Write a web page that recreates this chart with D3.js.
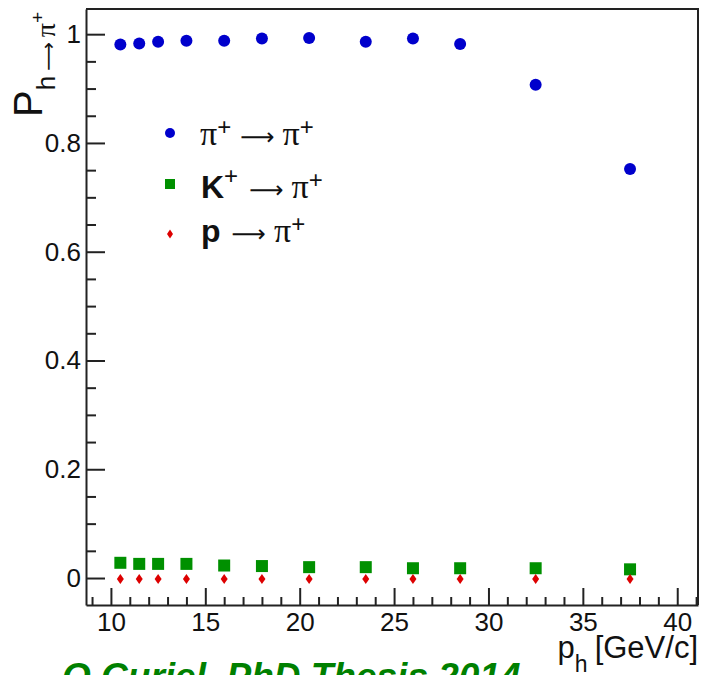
<!DOCTYPE html>
<html>
<head>
<meta charset="utf-8">
<script src="https://cdn.jsdelivr.net/npm/d3@7"></script>
<style>
  body { margin: 0; background: #fff; }
  svg { display: block; }
  text { font-family: "Liberation Sans", Arial, Helvetica, sans-serif; fill: #111; }
</style>
</head>
<body>
<div class="chart"></div>
<script>
// ======================================
// data
// ======================================
var momentum = [10.5, 11.5, 12.5, 14, 16, 18, 20.5, 23.5, 26, 28.5, 32.5, 37.5];
var piToPi = [0.981, 0.983, 0.986, 0.988, 0.988, 0.992, 0.993, 0.986, 0.992, 0.982, 0.907, 0.752];
var kToPi = [0.028, 0.026, 0.026, 0.026, 0.023, 0.022, 0.020, 0.020, 0.018, 0.018, 0.018, 0.016];
var pToPi = [0.0, 0.0, 0.0, 0.0, 0.0, 0.0, 0.0, 0.0, 0.0, 0.0, 0.0, 0.0];

var xTicks = [10, 15, 20, 25, 30, 35, 40];
var yTicks = [0, 0.2, 0.4, 0.6, 0.8, 1];
var yTickLabels = ['0', '0.2', '0.4', '0.6', '0.8', '1'];

// ======================================
// svg set up
// ======================================
var W = 702, H = 675;
var frame = { left: 86, right: 698, top: 9, bottom: 605 };
var serif = '"Liberation Serif", "DejaVu Serif", serif';
var arrowFont = '"DejaVu Sans", sans-serif';

var svg = d3.select('.chart')
   .append('svg')
   .attr('width', W)
   .attr('height', H);

var x = d3.scaleLinear().domain([8.68, 41.1]).range([frame.left, frame.right]);
var y = d3.scaleLinear().domain([-0.0496, 1.0463]).range([frame.bottom, frame.top]);

// frame (top and right sides)
svg.append('path')
   .attr('d', 'M' + frame.left + ',' + frame.top + 'H' + frame.right + 'V' + frame.bottom)
   .attr('fill', 'none')
   .attr('stroke', '#222')
   .attr('stroke-width', 2);

// ======================================
// axes: majors with labels, minors without
// ======================================
var xMinor = d3.range(9, 42, 1).filter(function(v){ return xTicks.indexOf(v) < 0; });
var yMinor = d3.range(-0.05, 1.06, 0.05).map(function(v){ return Math.round(v * 100) / 100; })
   .filter(function(v){ return v > -0.04 && v < 1.04 && yTicks.indexOf(v) < 0; });

svg.append('g')
   .attr('transform', 'translate(0,' + frame.bottom + ')')
   .call(d3.axisBottom(x).tickValues(xTicks).tickSizeInner(-17).tickSizeOuter(0).tickPadding(7.5));
svg.append('g')
   .attr('transform', 'translate(0,' + frame.bottom + ')')
   .call(d3.axisBottom(x).tickValues(xMinor).tickSizeInner(-8).tickSizeOuter(0).tickFormat(''))
   .select('.domain').remove();

svg.append('g')
   .attr('transform', 'translate(' + frame.left + ',0)')
   .call(d3.axisLeft(y).tickValues(yTicks).tickSizeInner(-19).tickSizeOuter(0).tickPadding(5)
      .tickFormat(function(d, i){ return yTickLabels[i]; }));
svg.append('g')
   .attr('transform', 'translate(' + frame.left + ',0)')
   .call(d3.axisLeft(y).tickValues(yMinor).tickSizeInner(-10).tickSizeOuter(0).tickFormat(''))
   .select('.domain').remove();

svg.selectAll('.domain').attr('stroke', '#222').attr('stroke-width', 2);
svg.selectAll('.tick line').attr('stroke', '#222').attr('stroke-width', 2);
svg.selectAll('.tick text')
   .attr('font-family', '"Liberation Sans", Arial, sans-serif')
   .attr('font-size', '26px')
   .attr('fill', '#1a1a2a');

// ======================================
// axis titles
// ======================================
var yTitle = svg.append('text')
   .attr('transform', 'translate(42,117) rotate(-90)')
   .attr('font-size', '40px');
yTitle.append('tspan').text('P');
yTitle.append('tspan').attr('dy', 13).attr('font-size', '26px').text('h');
yTitle.append('tspan').attr('font-size', '20px').attr('dx', 5).attr('font-family', arrowFont).text('\u27f6');
yTitle.append('tspan').attr('font-size', '28px').attr('dx', 5).attr('font-family', serif).text('\u03c0');
yTitle.append('tspan').attr('dy', -11).attr('font-size', '19px').text('+');

var xTitle = svg.append('text')
   .attr('x', frame.right)
   .attr('y', 658)
   .attr('text-anchor', 'end')
   .attr('font-size', '31px');
xTitle.append('tspan').text('p');
xTitle.append('tspan').attr('dy', 14).attr('font-size', '23px').text('h');
xTitle.append('tspan').attr('dy', -14).attr('dx', 7).text('[GeV/c]');

// ======================================
// markers
// ======================================
var diamond = function(cx, cy, w, h){
   return 'M' + cx + ',' + (cy - h) + 'L' + (cx + w) + ',' + cy + 'L' + cx + ',' + (cy + h) + 'L' + (cx - w) + ',' + cy + 'Z';
};

svg.selectAll('circle.pi')
   .data(momentum)
   .enter()
   .append('circle')
   .attr('class', 'pi')
   .attr('cx', function(d){ return x(d); })
   .attr('cy', function(d, i){ return y(piToPi[i]); })
   .attr('r', 6)
   .attr('fill', '#0000cc');

svg.selectAll('rect.k')
   .data(momentum)
   .enter()
   .append('rect')
   .attr('class', 'k')
   .attr('x', function(d){ return x(d) - 6; })
   .attr('y', function(d, i){ return y(kToPi[i]) - 6; })
   .attr('width', 12)
   .attr('height', 12)
   .attr('fill', '#009000');

svg.selectAll('path.p')
   .data(momentum)
   .enter()
   .append('path')
   .attr('class', 'p')
   .attr('d', function(d, i){ return diamond(x(d), y(pToPi[i]) + 1, 3.5, 5); })
   .attr('fill', '#dd0000');

// ======================================
// legend
// ======================================
svg.append('circle').attr('cx', 170).attr('cy', 133).attr('r', 5).attr('fill', '#0000cc');
svg.append('rect').attr('x', 165).attr('y', 179).attr('width', 10).attr('height', 10).attr('fill', '#009000');
svg.append('path').attr('d', diamond(170, 234, 3, 4.5)).attr('fill', '#dd0000');

// arrow and pi+ that end every legend entry; dy brings the baseline back after a superscript
var addArrowPi = function(t, gap, back){
   t.append('tspan').attr('dx', gap).attr('dy', back).attr('font-family', arrowFont).attr('font-size', '24px').text('\u27f6');
   t.append('tspan').attr('dx', 8).attr('font-family', serif).attr('font-size', '34px').text('\u03c0');
   t.append('tspan').attr('dy', -10.5).attr('font-size', '24px').text('+');
};

var l1 = svg.append('text').attr('x', 200).attr('y', 145).attr('font-size', '30px');
l1.append('tspan').attr('font-family', serif).attr('font-size', '34px').text('\u03c0');
l1.append('tspan').attr('dy', -10.5).attr('font-size', '24px').text('+');
addArrowPi(l1, 9, 10.5);

var l2 = svg.append('text').attr('x', 201).attr('y', 198).attr('font-size', '32px');
l2.append('tspan').attr('font-weight', 'bold').text('K');
l2.append('tspan').attr('dy', -14).attr('font-size', '24px').text('+');
addArrowPi(l2, 11, 14);

var l3 = svg.append('text').attr('x', 201).attr('y', 242).attr('font-size', '32px');
l3.append('tspan').attr('font-weight', 'bold').text('p');
addArrowPi(l3, 11, 0);

// ======================================
// caption, cut by the bottom edge
// ======================================
svg.append('text')
   .attr('x', 62)
   .attr('y', 689)
   .attr('font-size', '37px')
   .attr('font-weight', 'bold')
   .attr('font-style', 'italic')
   .style('fill', '#008000')
   .text('O.Curiel, PhD Thesis 2014');
</script>
</body>
</html>
